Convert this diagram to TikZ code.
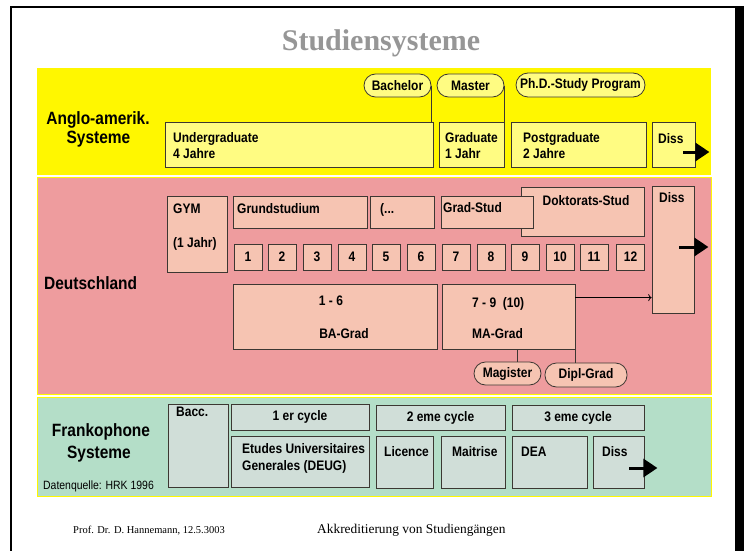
\documentclass[tikz,border=0pt]{standalone}
\usepackage{fontspec}
\setmainfont{Liberation Sans}[FakeStretch=0.87]
\newfontfamily\serifnorm{Liberation Serif}
\usepackage{tikz}
\usetikzlibrary{arrows.meta, positioning}
\usepackage{xcolor}
\definecolor{angloband}{RGB}{255,247,0}
\definecolor{anglobox}{RGB}{255,252,130}
\definecolor{deband}{RGB}{238,156,158}
\definecolor{debox}{RGB}{246,196,178}
\definecolor{frband}{RGB}{180,222,200}
\definecolor{frbox}{RGB}{208,222,216}
\definecolor{edge}{RGB}{60,55,50}
\definecolor{titlegray}{RGB}{150,150,150}

\begin{document}
\begin{tikzpicture}[x=1pt, y=-1pt,
	bx/.style={draw=edge, line width=0.8pt, inner sep=0pt},
	ybx/.style={bx, fill=anglobox},
	pbx/.style={bx, fill=debox},
	gbx/.style={bx, fill=frbox},
	pill/.style={rounded corners=11.5pt},
	txt/.style={inner sep=0pt, font=\bfseries\fontsize{13.8}{16}\selectfont},
	lab/.style={inner sep=0pt, anchor=base, font=\bfseries\fontsize{17.8}{20}\selectfont},
	bigarrow/.style={line width=3pt, -{Triangle[length=14pt,width=18pt]}}]
	\useasboundingbox (0,0) rectangle (744,551);
	\fill (735,6) rectangle (744,551);
	\draw[line width=2pt] (11,551) -- (11,7) -- (736,7);

	\node[anchor=base, inner sep=0pt, text=titlegray, font=\serifnorm\bfseries\fontsize{30}{34}\selectfont] (title) at (381,51) {Studiensysteme};

	\fill[angloband] (37,68) rectangle (711,175);
	\filldraw[fill=deband, draw=angloband, line width=1pt] (37,177) rectangle (711,394);
	\filldraw[fill=frband, draw=angloband, line width=1pt] (37,397) rectangle (711,496);

	\node[lab] (anglo1) at (98,124.4) {Anglo-amerik.};
	\node[lab] (anglo2) at (98.5,143.4) {Systeme};
	\node[lab, anchor=base west] (deutsch) at (44,289.4) {Deutschland};
	\node[lab] (franko1) at (101,436.4) {Frankophone};
	\node[lab] (franko2) at (99,458.4) {Systeme};
	\node[anchor=base west, inner sep=0pt, font=\fontsize{12}{14}\selectfont] (quelle) at (43,489.3) {Datenquelle: HRK 1996};

	\draw (299,144.5) node[ybx, minimum width=268, minimum height=45] (under) {}
		(471.5,144.5) node[ybx, minimum width=65, minimum height=45] (grad) {}
		(578.5,144.5) node[ybx, minimum width=135, minimum height=45] (postg) {}
		(673.5,144.5) node[ybx, minimum width=43, minimum height=45] (diss1) {}
		(397.5,85.5) node[ybx, txt, pill, minimum width=67, minimum height=23] (bach) {Bachelor}
		(470.5,85.5) node[ybx, txt, pill, minimum width=67, minimum height=23] (master) {Master}
		(580.5,85) node[ybx, txt, pill, minimum width=129, minimum height=24, rounded corners=12pt] (phd) {Ph.D.-Study Program};
	\node[txt, anchor=base west] (under1) at (173,142) {Undergraduate};
	\node[txt, anchor=base west] (under2) at (173,158) {4 Jahre};
	\node[txt, anchor=base west] (grad1) at (445,142) {Graduate};
	\node[txt, anchor=base west] (grad2) at (445,158) {1 Jahr};
	\node[txt, anchor=base west] (postg1) at (523,142) {Postgraduate};
	\node[txt, anchor=base west] (postg2) at (523,158) {2 Jahre};
	\node[txt, anchor=base west] (diss1t) at (658,143) {Diss};

	\draw (197,234) node[pbx, minimum width=60, minimum height=76] (gym) {}
		(300,212) node[pbx, minimum width=134, minimum height=32] (grund) {}
		(402,212) node[pbx, minimum width=64, minimum height=32] (dots) {}
		(582.5,211.5) node[pbx, minimum width=123, minimum height=49] (dokt) {}
		(487,212) node[pbx, minimum width=92, minimum height=32] (gradst) {}
		(673,249.5) node[pbx, minimum width=42, minimum height=127] (diss2) {}
		(335,316.5) node[pbx, minimum width=204, minimum height=65] (ba) {}
		(508.5,316.5) node[pbx, minimum width=133, minimum height=65] (ma) {}
		(507.5,373.5) node[pbx, txt, pill, minimum width=67, minimum height=23] (mag) {Magister}
		(586,375) node[pbx, txt, pill, minimum width=82, minimum height=24] (dipl) {Dipl-Grad};
	\foreach \n/\x in {1/248, 2/282, 3/317, 4/352, 5/386, 6/421, 7/456, 8/491, 9/525, 10/560, 11/594, 12/630.5}
		\node[pbx, txt, minimum width=28, minimum height=26] (sem\n) at (\x,257) {\n};
	\node[txt, anchor=base west] (gym1) at (173,213) {GYM};
	\node[txt, anchor=base west] (gym2) at (173,247) {(1 Jahr)};
	\node[txt, anchor=base west] (grund1) at (237,213) {Grundstudium};
	\node[txt, anchor=base west] (dots1) at (380,213) {(...};
	\node[txt, anchor=base west] (gradst1) at (443,212) {Grad-Stud};
	\node[txt, anchor=base] (dokt1) at (586,205) {Doktorats-Stud};
	\node[txt, anchor=base west] (diss2t) at (659,202) {Diss};
	\node[txt, anchor=base] (ba1) at (331,305) {1 - 6};
	\node[txt, anchor=base] (ba2) at (344,338) {BA-Grad};
	\node[txt, anchor=base west] (ma1) at (472,307) {7 - 9~~(10)};
	\node[txt, anchor=base west] (ma2) at (472,338) {MA-Grad};

	\draw (198,445.5) node[gbx, minimum width=60, minimum height=83] (bacc) {}
		(300,417) node[gbx, txt, minimum width=138, minimum height=26] (cyc1) {1 er cycle}
		(440.5,417.5) node[gbx, txt, minimum width=129, minimum height=25] (cyc2) {2 eme cycle}
		(578,417.5) node[gbx, txt, minimum width=132, minimum height=25] (cyc3) {3 eme cycle}
		(300,461.5) node[gbx, minimum width=138, minimum height=51] (etud) {}
		(404.5,462) node[gbx, minimum width=57, minimum height=52] (lic) {}
		(473,462) node[gbx, minimum width=64, minimum height=52] (mait) {}
		(549.5,462) node[gbx, minimum width=75, minimum height=52] (dea) {}
		(618.5,462) node[gbx, minimum width=51, minimum height=52] (diss3) {};
	\node[txt, anchor=base west] (bacc1) at (176,416) {Bacc.};
	\node[txt, anchor=base west] (etud1) at (242,453) {Etudes Universitaires};
	\node[txt, anchor=base west] (etud2) at (242,470) {Generales (DEUG)};
	\node[txt, anchor=base west] (lic1) at (384,456) {Licence};
	\node[txt, anchor=base west] (mait1) at (452,456) {Maitrise};
	\node[txt, anchor=base west] (dea1) at (521,456) {DEA};
	\node[txt, anchor=base west] (diss3t) at (602,456) {Diss};

	\coordinate (maout) at ([yshift=-14pt]ma.north east);
	\coordinate (magtop) at ([xshift=9.5pt]mag.north);
	\draw[edge, line width=0.8pt] (bach.east) -- (bach.east |- under.north);
	\draw[edge, line width=0.8pt] (master.east) -- (master.east |- grad.north);
	\draw[edge, line width=0.8pt] (magtop) -- (magtop |- ma.south);
	\draw[edge, line width=0.8pt] (ma.south east) -- (ma.south east |- dipl.north);
	\draw[->, line width=0.8pt] (maout) -- (maout -| diss2.west);

	\draw[bigarrow] ([xshift=-12pt,yshift=-7.5pt]diss1.east) -- ++(26,0);
	\draw[bigarrow] ([xshift=-15pt,yshift=2.5pt]diss2.east) -- ++(29,0);
	\draw[bigarrow] ([xshift=-15pt,yshift=-6pt]diss3.east) -- ++(28,0);

	\node[anchor=base west, inner sep=0pt, font=\serifnorm\fontsize{10.5}{12}\selectfont] (foot1) at (73,533) {Prof. Dr. D. Hannemann, 12.5.3003};
	\node[anchor=base west, inner sep=0pt, font=\serifnorm\fontsize{13.4}{15}\selectfont] (foot2) at (317,533) {Akkreditierung von Studiengängen};
\end{tikzpicture}
\end{document}
